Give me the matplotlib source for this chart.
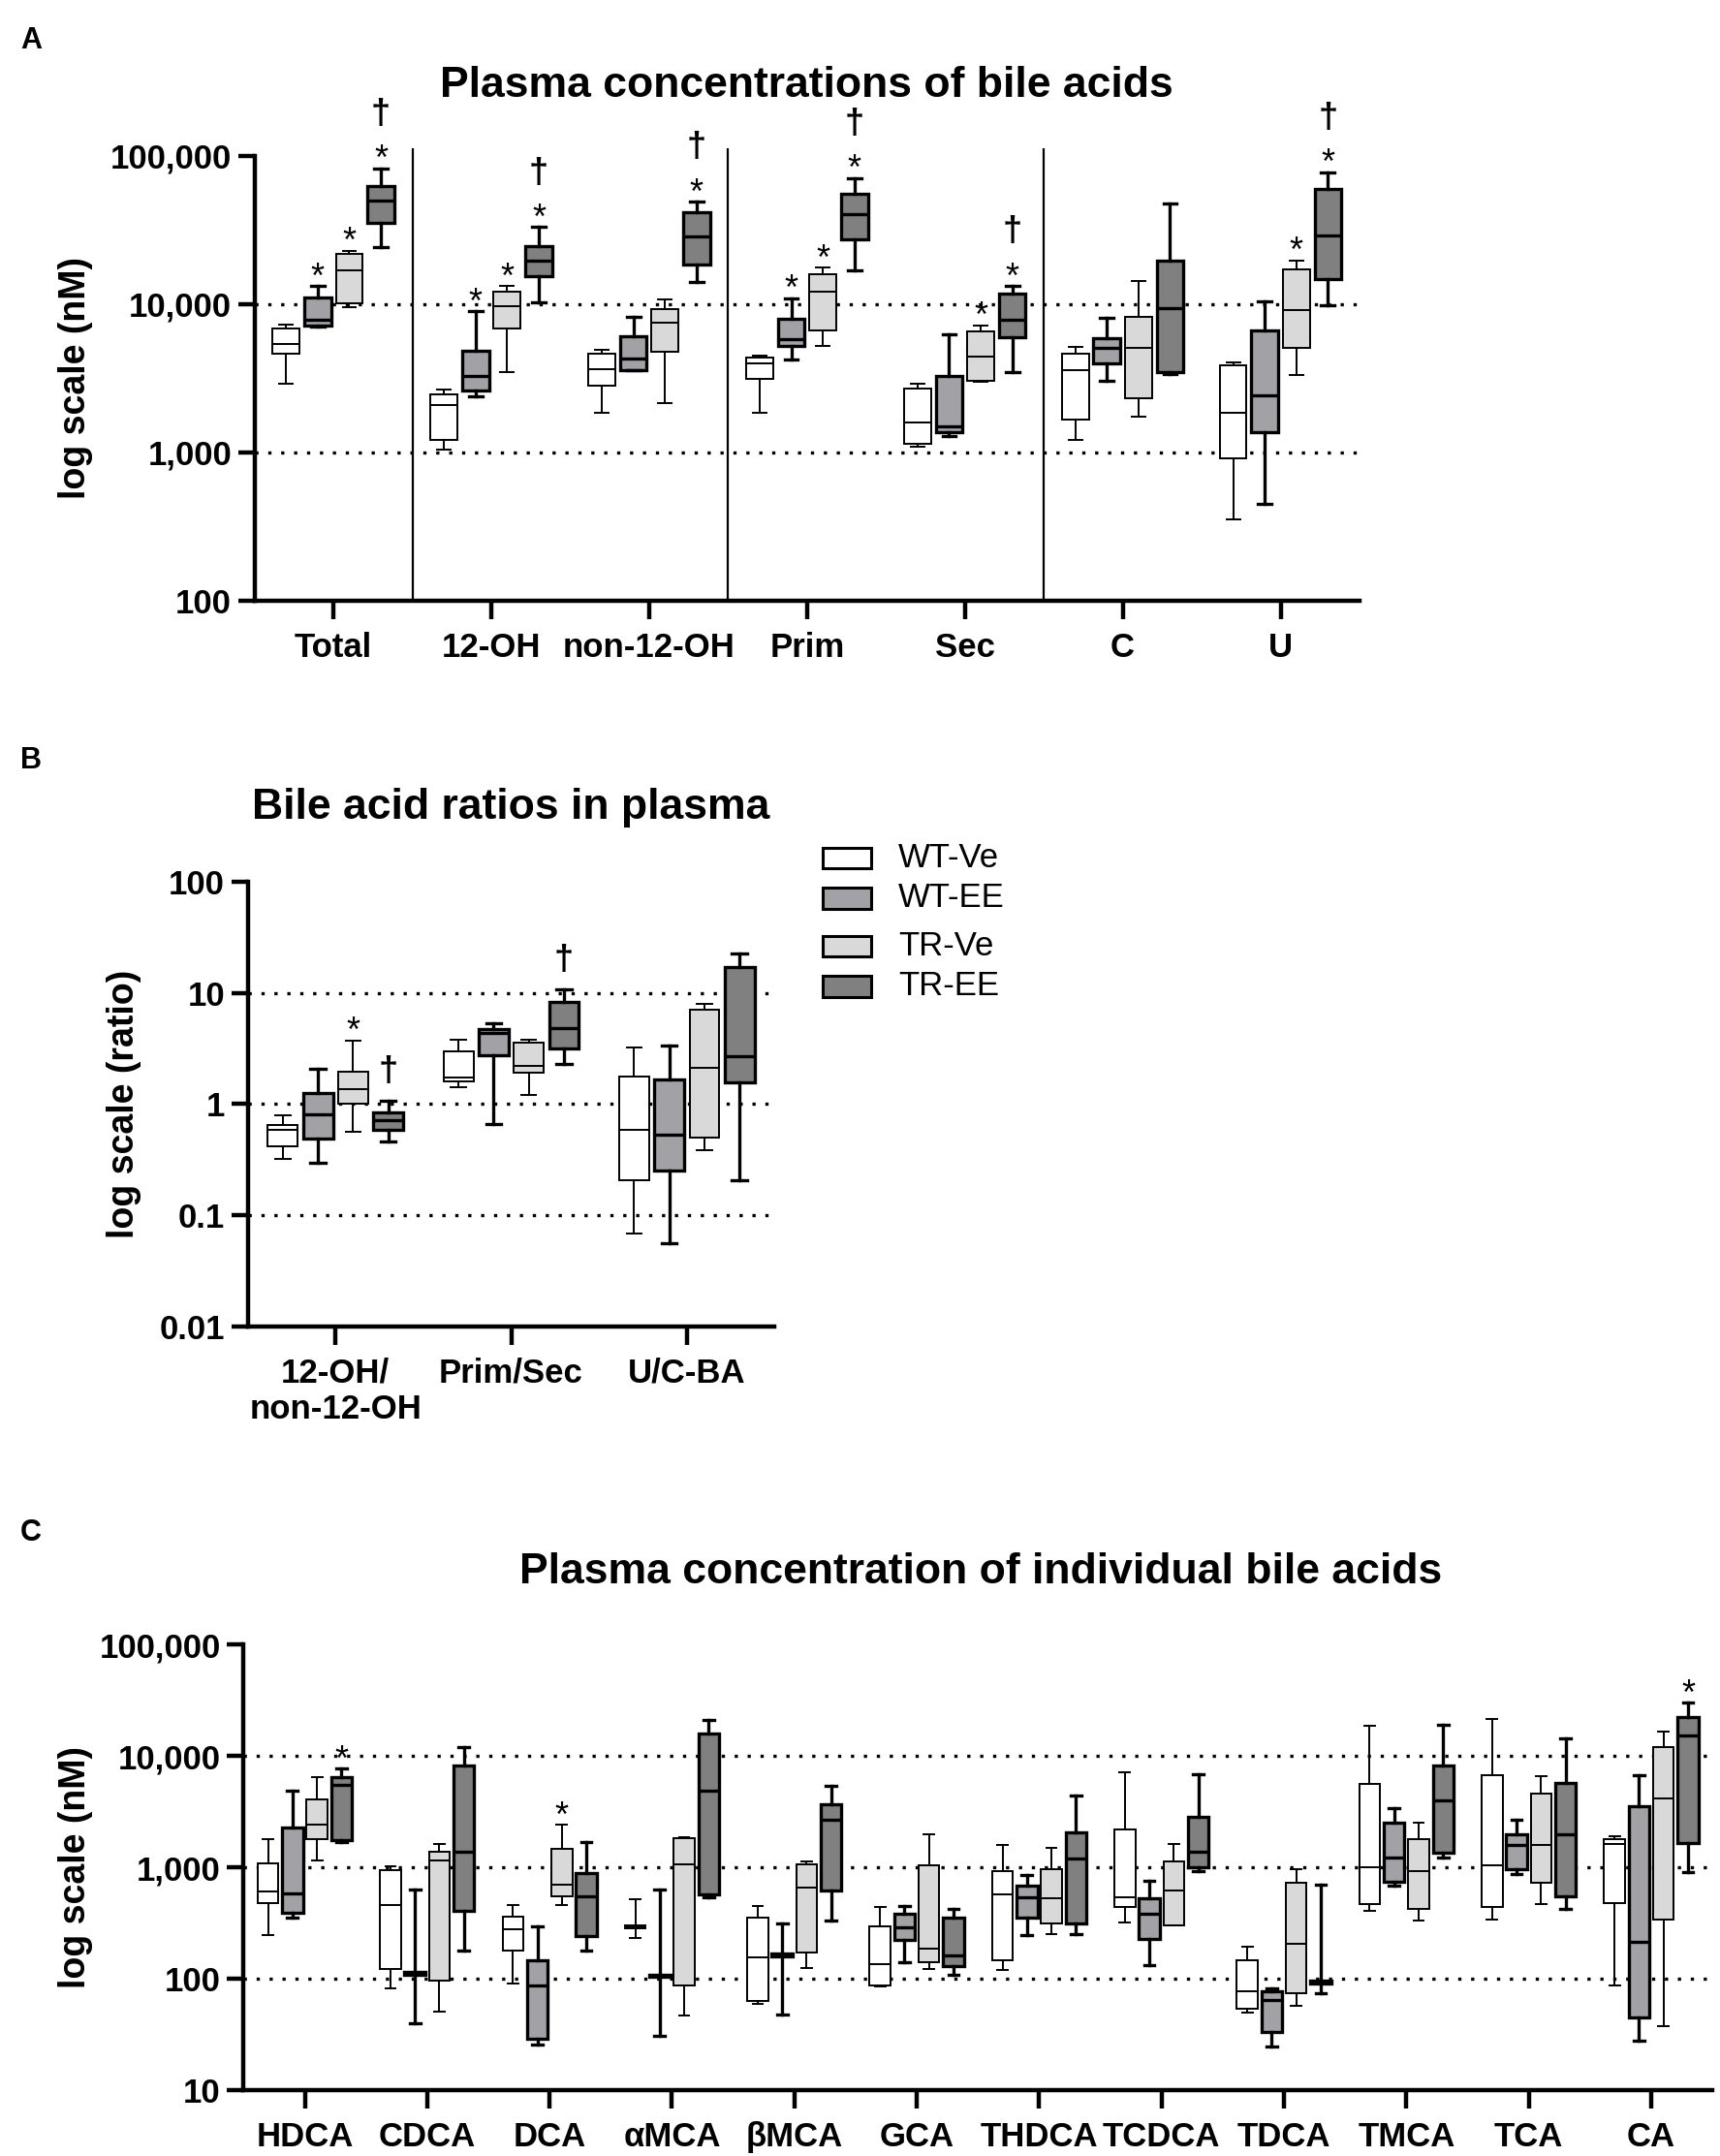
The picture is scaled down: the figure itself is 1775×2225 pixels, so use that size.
import numpy as np
import matplotlib.pyplot as plt
from matplotlib.patches import Rectangle
from matplotlib.ticker import FixedLocator, NullLocator

plt.rcParams['font.family'] = ['Liberation Sans', 'DejaVu Sans']

groups = ['WT-Ve', 'WT-EE', 'TR-Ve', 'TR-EE']
colours = ['#ffffff', '#a2a2a6', '#d9d9d9', '#808080']
edge_lw = [1.4, 2.4, 1.4, 2.4]
offsets = [-0.3, -0.1, 0.1, 0.3]

# every row: whisker low, Q1, median, Q3, whisker high
catsA = ['Total', '12-OH', 'non-12-OH', 'Prim', 'Sec', 'C', 'U']
A_wt_ve = [[2920, 4640, 5380, 6860, 7300], [1050, 1210, 2070, 2450, 2660],
           [1860, 2800, 3620, 4610, 4930], [1850, 3140, 3980, 4340, 4490],
           [1085, 1140, 1600, 2710, 2880], [1220, 1670, 3600, 4640, 5140],
           [352, 910, 1850, 3840, 4030]]
A_wt_ee = [[7000, 7100, 7850, 11000, 13200], [2400, 2620, 3250, 4860, 8900],
           [3570, 3570, 4310, 6080, 8170], [4200, 5200, 5760, 7960, 10900],
           [1290, 1360, 1500, 3250, 6280], [3040, 3980, 5030, 5910, 8050],
           [452, 1370, 2430, 6640, 10400]]
A_tr_ve = [[9570, 10070, 16900, 21800, 22900], [3480, 6810, 9600, 12100, 13200],
           [2140, 4800, 7530, 9220, 10800], [5240, 6680, 12200, 15800, 17600],
           [3000, 3050, 4430, 6500, 7190], [1730, 2320, 5030, 8170, 14300],
           [3300, 5070, 9040, 17000, 19600]]
A_tr_ee = [[24100, 35200, 49600, 62800, 82200], [10300, 15400, 19600, 24500, 33000],
           [14000, 18500, 28600, 41400, 49000], [16900, 27100, 40500, 55000, 70500],
           [3480, 5960, 7850, 11700, 13200], [3360, 3480, 9350, 19700, 47700],
           [9860, 14700, 29000, 59600, 77400]]
A_stars = [(0, 1), (0, 2), (0, 3), (1, 1), (1, 2), (1, 3), (2, 3), (3, 1), (3, 2),
           (3, 3), (4, 2), (4, 3), (6, 2), (6, 3)]
A_daggers = [(0, 3), (1, 3), (2, 3), (3, 3), (4, 3), (6, 3)]

catsB = ['12-OH/\nnon-12-OH', 'Prim/Sec', 'U/C-BA']
B_wt_ve = [[0.321, 0.415, 0.587, 0.644, 0.795], [1.43, 1.61, 1.73, 2.98, 3.78],
           [0.069, 0.208, 0.587, 1.77, 3.2]]
B_wt_ee = [[0.295, 0.489, 0.81, 1.26, 2.06], [0.668, 2.77, 4.34, 4.76, 5.31],
           [0.0566, 0.252, 0.531, 1.66, 3.36]]
B_tr_ve = [[0.567, 1.0, 1.37, 1.97, 3.71], [1.2, 1.9, 2.22, 3.55, 3.78],
           [0.382, 0.503, 2.1, 7.06, 7.88]]
B_tr_ee = [[0.458, 0.587, 0.719, 0.848, 1.08], [2.28, 3.15, 4.8, 8.24, 10.8],
           [0.208, 1.57, 2.72, 17.2, 22.6]]
B_stars = [(0, 2)]
B_daggers = [(0, 3), (1, 3)]

catsC = ['HDCA', 'CDCA', 'DCA', 'αMCA', 'βMCA', 'GCA', 'THDCA', 'TCDCA',
         'TDCA', 'TMCA', 'TCA', 'CA']
C_wt_ve = [[245, 480, 608, 1084, 1790], [82.4, 121, 459, 938, 1030],
           [89.8, 177, 276, 359, 459], [233, 285, 290, 298, 517],
           [58.7, 62.8, 156, 353, 452], [84.5, 87.5, 134, 295, 441],
           [119, 146, 568, 922, 1600], [321, 441, 535, 2210, 7100],
           [49.4, 53.8, 77.6, 147, 193], [404, 471, 1010, 5650, 18600],
           [341, 441, 1050, 6740, 21400], [87.5, 480, 1630, 1790, 1920]]
C_wt_ee = [[350, 394, 582, 2270, 4890], [40, 108, 111, 115, 634],
           [25.7, 29, 87.5, 145, 295], [30.8, 103, 106, 109, 634],
           [47.4, 158, 163, 168, 313], [141, 221, 290, 381, 452],
           [245, 350, 540, 690, 861], [131, 229, 384, 522, 758],
           [24.7, 33.2, 63.8, 77.6, 81.1], [679, 739, 1230, 2520, 3420],
           [869, 970, 1580, 1970, 2650], [27.7, 45.1, 215, 3560, 6740]]
C_tr_ve = [[1150, 1776, 2430, 4050, 6520], [50.4, 96.8, 1150, 1390, 1620],
           [459, 549, 703, 1460, 2410], [46.7, 87.5, 1070, 1810, 1880],
           [125, 173, 662, 1070, 1130], [121, 141, 185, 1040, 1980],
           [249, 313, 526, 955, 1490], [300, 300, 614, 1140, 1620],
           [57.2, 73.8, 205, 733, 970], [335, 426, 931, 1790, 2530],
           [471, 733, 1590, 4560, 6640], [37.7, 341, 4190, 12100, 16600]]
C_tr_ee = [[1690, 1760, 5500, 6410, 7730], [180, 404, 1390, 8200, 12100],
           [180, 239, 545, 891, 1690], [535, 573, 4890, 15800, 21300],
           [335, 624, 2650, 3690, 5410], [109, 129, 163, 356, 422],
           [249, 316, 1210, 2070, 4450], [922, 1010, 1390, 2860, 6920],
           [74.5, 91, 93.5, 96, 703], [1220, 1340, 3980, 8280, 19000],
           [426, 553, 1980, 5740, 14500], [899, 1670, 15300, 22400, 30100]]
C_stars = [(0, 3), (2, 2), (11, 3)]
C_daggers = []


def DrawBoxes(ax, series):
    for g, rows in enumerate(series):
        stats = [dict(whislo=r[0], q1=r[1], med=r[2], q3=r[3], whishi=r[4], fliers=[])
                 for r in rows]
        pos = np.arange(len(rows)) + offsets[g]
        lw = edge_lw[g]
        ax.bxp(stats, positions=pos, widths=0.17, patch_artist=True,
               showfliers=False, manage_ticks=False, zorder=3,
               boxprops=dict(facecolor=colours[g], edgecolor='black', linewidth=lw),
               medianprops=dict(color='black', linewidth=lw),
               whiskerprops=dict(color='black', linewidth=lw),
               capprops=dict(color='black', linewidth=lw))


def Mark(ax, series, stars, daggers):
    # significance symbols above the upper whisker
    for c, g in stars:
        top = series[g][c][4]
        ax.annotate('*', xy=(c + offsets[g], top), xytext=(0, -1),
                    textcoords='offset points', ha='center', va='baseline',
                    fontsize=26, annotation_clip=False)
    for c, g in daggers:
        top = series[g][c][4]
        off = 33 if (c, g) in stars else 14
        ax.annotate('\u2020', xy=(c + offsets[g], top), xytext=(0, off),
                    textcoords='offset points', ha='center', va='baseline',
                    fontsize=26, fontweight='bold', annotation_clip=False)


def StyleAxes(ax, cats, ylim, yticks, yticklabels, dotted):
    ax.set_yscale('log')
    ax.set_ylim(*ylim)
    ax.set_xlim(-0.5, len(cats) - 0.5)
    for s in ['top', 'right']:
        ax.spines[s].set_visible(False)
    for s in ['left', 'bottom']:
        ax.spines[s].set_linewidth(3.2)
    ax.yaxis.set_major_locator(FixedLocator(yticks))
    ax.yaxis.set_minor_locator(NullLocator())
    ax.set_yticklabels(yticklabels, fontsize=25, fontweight='bold')
    ax.set_xticks(np.arange(len(cats)))
    ax.set_xticklabels(cats, fontsize=25, fontweight='bold', linespacing=1.15)
    ax.tick_params(axis='y', width=3.2, length=12, pad=5)
    ax.tick_params(axis='x', width=3.2, length=14, pad=9)
    for y in dotted:
        ax.axhline(y, color='black', lw=2.4, ls=(0, (1, 3)), zorder=1)


fig = plt.figure(figsize=(17.75, 22.25), dpi=100)

# Panel A
axA = fig.add_axes([0.148, 0.7214, 0.6424, 0.2064])
seriesA = [A_wt_ve, A_wt_ee, A_tr_ve, A_tr_ee]
StyleAxes(axA, catsA, (100, 100000), [100, 1000, 10000, 100000],
          ['100', '1,000', '10,000', '100,000'], [1000, 10000])
axA.vlines([0.5, 2.5, 4.5], 100, 112000, color='black', lw=1.6, clip_on=False)
DrawBoxes(axA, seriesA)
Mark(axA, seriesA, A_stars, A_daggers)

# Panel B
axB = fig.add_axes([0.144, 0.3847, 0.3064, 0.2064])
seriesB = [B_wt_ve, B_wt_ee, B_tr_ve, B_tr_ee]
StyleAxes(axB, catsB, (0.01, 100), [0.01, 0.1, 1, 10, 100],
          ['0.01', '0.1', '1', '10', '100'], [0.1, 1, 10])
DrawBoxes(axB, seriesB)
Mark(axB, seriesB, B_stars, B_daggers)

# Panel C
axC = fig.add_axes([0.1416, 0.0307, 0.8540, 0.2064])
seriesC = [C_wt_ve, C_wt_ee, C_tr_ve, C_tr_ee]
StyleAxes(axC, catsC, (10, 100000), [10, 100, 1000, 10000, 100000],
          ['10', '100', '1,000', '10,000', '100,000'], [100, 1000, 10000])
DrawBoxes(axC, seriesC)
Mark(axC, seriesC, C_stars, C_daggers)

# titles, panel letters and axis labels
fig.text(0.4692, 0.9604, 'Plasma concentrations of bile acids', ha='center',
         va='center', fontsize=32, fontweight='bold')
fig.text(0.2972, 0.6256, 'Bile acid ratios in plasma', ha='center',
         va='center', fontsize=32, fontweight='bold')
fig.text(0.570, 0.2709, 'Plasma concentration of individual bile acids',
         ha='center', va='center', fontsize=32, fontweight='bold')
for letter, y in [('A', 0.9812), ('B', 0.6473), ('C', 0.2888)]:
    fig.text(0.018, y, letter, ha='center', va='center', fontsize=22,
             fontweight='bold')
fig.text(0.044, 0.8246, 'log scale (nM)', rotation=90, ha='center', va='center',
         fontsize=27, fontweight='bold')
fig.text(0.072, 0.4879, 'log scale (ratio)', rotation=90, ha='center', va='center',
         fontsize=27, fontweight='bold')
fig.text(0.044, 0.1339, 'log scale (nM)', rotation=90, ha='center', va='center',
         fontsize=27, fontweight='bold')

# legend drawn by hand next to panel B
legend_y = [623, 652, 687, 716]
for g, yd in enumerate(legend_y):
    yc = 1 - yd / 1565
    fig.add_artist(Rectangle((0.4784, yc - 0.0048), 0.028, 0.0096,
                             transform=fig.transFigure, facecolor=colours[g],
                             edgecolor='black', linewidth=2.2))
    fig.text(0.5224, yc, groups[g], ha='left', va='center', fontsize=25)

fig.savefig('out.png', dpi=100)
